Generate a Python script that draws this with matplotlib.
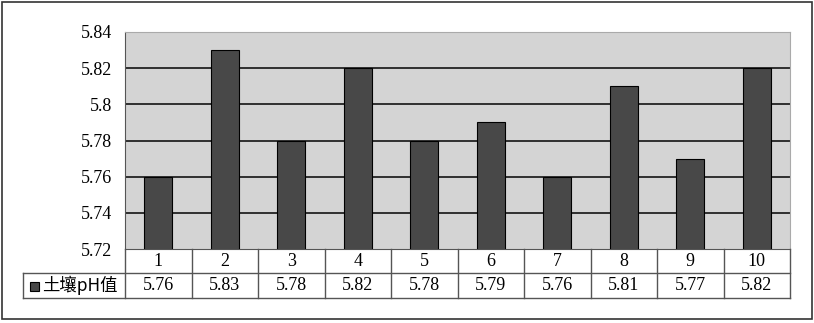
import numpy as np
import matplotlib.pyplot as plt
from matplotlib.patches import Rectangle
from matplotlib.lines import Line2D

plt.rcParams['font.family'] = ['Liberation Serif', 'Noto Sans CJK SC']

# data
categories = ['1', '2', '3', '4', '5', '6', '7', '8', '9', '10']
ph_values = [5.76, 5.83, 5.78, 5.82, 5.78, 5.79, 5.76, 5.81, 5.77, 5.82]
series_name = '土壤pH值'
yticks = [5.72, 5.74, 5.76, 5.78, 5.80, 5.82, 5.84]
ytick_labels = ['5.72', '5.74', '5.76', '5.78', '5.8', '5.82', '5.84']

W, H = 814, 323
fig = plt.figure(figsize=(W / 100, H / 100), dpi=100)

# outer border
fig.add_artist(Rectangle((2 / W, 4 / H), 810 / W, 317 / H, transform=fig.transFigure,
                         fill=False, ec='#333333', lw=1.2))

x_left, x_right, y_top, y_bot = 125, 790, 32, 249
ax = fig.add_axes([x_left / W, 1 - y_bot / H, (x_right - x_left) / W, (y_bot - y_top) / H])
ax.set_facecolor('#d4d4d4')

x = np.arange(len(categories))
ax.bar(x, ph_values, width=0.42, color='#484848', edgecolor='black', linewidth=0.8, zorder=3)
ax.set_xlim(-0.5, len(categories) - 0.5)
ax.set_ylim(5.72, 5.84)
ax.set_yticks(yticks)
ax.set_yticklabels(ytick_labels, fontsize=13)
ax.tick_params(axis='y', length=0, pad=9)
ax.set_xticks([])
for y in yticks[1:-1]:
    ax.axhline(y, color='#222222', lw=1.3, zorder=1)
for s in ['top', 'right']:
    ax.spines[s].set_color('#aaaaaa')
ax.spines['left'].set_color('#555555')
ax.spines['bottom'].set_color('#555555')

# data table
row1_bot, row2_bot = 273, 298
leg_left = 23
step = (x_right - x_left) / len(categories)
line_kw = dict(transform=fig.transFigure, color='#555555', lw=1)


def fx(px):
    return px / W


def fy(py):
    return 1 - py / H


fig.add_artist(Line2D([fx(x_left), fx(x_left)], [fy(y_bot), fy(row2_bot)], **line_kw))
fig.add_artist(Line2D([fx(leg_left), fx(x_right)], [fy(row1_bot), fy(row1_bot)], **line_kw))
fig.add_artist(Line2D([fx(leg_left), fx(x_right)], [fy(row2_bot), fy(row2_bot)], **line_kw))
fig.add_artist(Line2D([fx(leg_left), fx(leg_left)], [fy(row1_bot), fy(row2_bot)], **line_kw))
for i in range(1, len(categories) + 1):
    xp = x_left + i * step
    fig.add_artist(Line2D([fx(xp), fx(xp)], [fy(y_bot), fy(row2_bot)], **line_kw))

for i, (c, v) in enumerate(zip(categories, ph_values)):
    xc = x_left + (i + 0.5) * step
    fig.text(fx(xc), fy((y_bot + row1_bot) / 2), c, ha='center', va='center', fontsize=13)
    fig.text(fx(xc), fy((row1_bot + row2_bot) / 2), f'{v:.2f}', ha='center', va='center', fontsize=13)

fig.add_artist(Rectangle((fx(30), fy(291)), 9 / W, 9 / H, transform=fig.transFigure,
                         fc='#484848', ec='black', lw=0.8))
fig.text(fx(42), fy((row1_bot + row2_bot) / 2), series_name, ha='left', va='center',
         fontsize=12.5, family=['Noto Sans CJK SC', 'DejaVu Sans'])

fig.savefig('out.png', dpi=100)
